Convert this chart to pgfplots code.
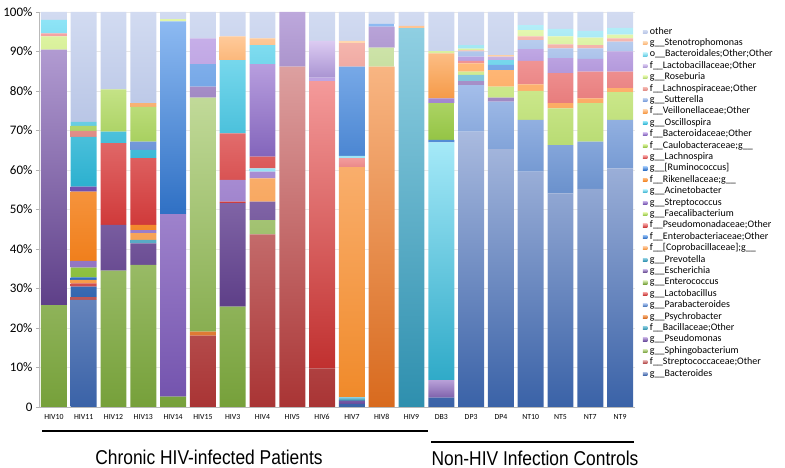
\documentclass[border=0pt]{standalone}
\usepackage{graphicx}
\usepackage{pgfplots}
\pgfplotsset{compat=1.18}
\usepackage{pgfplotstable}
\usepackage{fontspec}
\setmainfont{Carlito}
\newfontfamily\arialfont{Liberation Sans}

\definecolor{c1t}{HTML}{A9BADF}\definecolor{c1b}{HTML}{3A62A7}
\definecolor{c2t}{HTML}{DDA0A0}\definecolor{c2b}{HTML}{A93434}
\definecolor{c3t}{HTML}{CDE3A8}\definecolor{c3b}{HTML}{76A03A}
\definecolor{c4t}{HTML}{B8A0D8}\definecolor{c4b}{HTML}{6A4C9C}
\definecolor{c5t}{HTML}{7FC7DA}\definecolor{c5b}{HTML}{2E8FAA}
\definecolor{c6t}{HTML}{F8B582}\definecolor{c6b}{HTML}{D86A1E}
\definecolor{c7t}{HTML}{A4BEEA}\definecolor{c7b}{HTML}{3366B0}
\definecolor{c8t}{HTML}{F49A9A}\definecolor{c8b}{HTML}{C0302F}
\definecolor{c9t}{HTML}{CDE3A8}\definecolor{c9b}{HTML}{76A03A}
\definecolor{c10t}{HTML}{BDA8DC}\definecolor{c10b}{HTML}{5E3F88}
\definecolor{c11t}{HTML}{8FCFE2}\definecolor{c11b}{HTML}{2E8FAE}
\definecolor{c12t}{HTML}{FFC494}\definecolor{c12b}{HTML}{F08A2A}
\definecolor{c13t}{HTML}{8DBAF2}\definecolor{c13b}{HTML}{2E6EC2}
\definecolor{c14t}{HTML}{F29C9C}\definecolor{c14b}{HTML}{CC3B3B}
\definecolor{c15t}{HTML}{DDF3A0}\definecolor{c15b}{HTML}{8CBF3E}
\definecolor{c16t}{HTML}{C6AEE8}\definecolor{c16b}{HTML}{7454AE}
\definecolor{c17t}{HTML}{A5E9F8}\definecolor{c17b}{HTML}{2FAAC8}
\definecolor{c18t}{HTML}{FFB878}\definecolor{c18b}{HTML}{F07F1C}
\definecolor{c19t}{HTML}{8DBAF2}\definecolor{c19b}{HTML}{2F70C4}
\definecolor{c20t}{HTML}{F5A3A3}\definecolor{c20b}{HTML}{D03A3A}
\definecolor{c21t}{HTML}{E1F5A8}\definecolor{c21b}{HTML}{94C445}
\definecolor{c22t}{HTML}{C6AEE8}\definecolor{c22b}{HTML}{6F4FAE}
\definecolor{c23t}{HTML}{8EE4F6}\definecolor{c23b}{HTML}{2CB0CF}
\definecolor{c24t}{HTML}{FFCA9A}\definecolor{c24b}{HTML}{F59A48}
\definecolor{c25t}{HTML}{B8CCEE}\definecolor{c25b}{HTML}{6E95D8}
\definecolor{c26t}{HTML}{F6B8B0}\definecolor{c26b}{HTML}{E08B86}
\definecolor{c27t}{HTML}{E4F7B0}\definecolor{c27b}{HTML}{A8D060}
\definecolor{c28t}{HTML}{DCCBF2}\definecolor{c28b}{HTML}{A994D2}
\definecolor{c29t}{HTML}{B4EEF8}\definecolor{c29b}{HTML}{66CCE2}
\definecolor{c30t}{HTML}{FFD8B0}\definecolor{c30b}{HTML}{F8B070}
\definecolor{c31t}{HTML}{D2DBF1}\definecolor{c31b}{HTML}{B9C6E6}

\pgfplotstableread{
x s1 s2 s3 s4 s5 s6 s7 s8 s9 s10 s11 s12 s13 s14 s15 s16 s17 s18 s19 s20 s21 s22 s23 s24 s25 s26 s27 s28 s29 s30 s31
0 0 0 0 0 0 0 0 0 25.8 64.7 0 0 0 0 3.3 0 0 0 0 0.8 0 0 3.4 0 0 0 0 0 0 0 2.0
1 27.1 0.7 0 0 0 0 2.7 0.8 0 0 0 0.9 0.6 0 2.5 1.7 0 17.5 0 0 0 1.3 12.6 0 0 1.5 1.3 0 1.0 0 27.8
2 0 0 0 0 0 0 0 0 34.5 11.6 0 0 0 0 0 0 0 0 0 20.7 0 0 2.9 0 0 0 10.7 0 0 0 19.6
3 0 0 0 0 0 0 0 0 36.0 5.4 0.9 1.7 0 0 0 0.8 0 1.3 0 16.9 0 0 2.1 0 2.1 0 8.8 0 0 0.9 23.1
4 0 0 0 0 0 0 0 0 2.6 0 0 0 0 0 0 46.2 0 0 48.8 0 0.6 0 0 0 0 0 0 0 0 0 1.8
5 0 18.1 0 0 0 1.0 0 0 59.2 2.8 0 0 5.7 0 0 6.1 0 0 0 0 0 0.4 0 0 0 0 0 0 0 0 6.7
6 0 0 0 0 0 0 0 0 25.4 26.2 0 0 0 0.4 0 5.5 0 0 0 11.8 0 0 18.5 6.0 0 0 0 0 0 0 6.2
7 0 43.7 0 0 0 0 0 0 3.6 4.7 0 5.9 0 0 0 1.7 0.8 0 0 3.0 0 23.4 4.8 1.7 0 0 0 0 0 0 6.7
8 0 86.2 0 0 0 0 0 0 0 13.8 0 0 0 0 0 0 0 0 0 0 0 0 0 0 0 0 0 0 0 0 0
9 0 9.8 0 0 0 0 0 72.7 0 0 0 0 0 0 0 0.9 0 0 0 0 0 0 0 0 0 0 0 9.3 0 0 7.3
10 0.8 0 0 0.8 0.8 0 0 0 0 0 0 58.3 0 2.3 0 0 0.6 0 22.6 0 0 0 0 0 0 5.9 0 0 0 0.6 7.3
11 0 0 0 0 0 86.2 0 0 4.8 5.3 0 0 0.7 0 0 0 0 0 0 0 0 0 0 0 0 0 0 0 0 0 3.0
12 0 0 0 0 0 0 0 0 0 0 95.9 0.6 0 0 0 0 0 0 0 0 0 0 0 0 0 0 0 0 0 0 3.5
13 2.4 0 0 4.4 0 0 0 0 0 0 0 0 0 0 0 0 60.2 0 0.6 0 9.3 1.2 0 11.4 0 0 0.6 0 0 0 9.9
14 69.7 0 0 0 0 0 11.8 0 0 1.0 1.6 0 0 0 0.8 0 0 2.1 0 0.6 0 1.1 0 0 1.3 0.3 0.4 0 0.9 0 8.4
15 65.3 0 0 0 0 0 12.0 0 0 1.0 0 0 0 0 2.8 0 0 4.2 1.3 0 0 0 1.2 0 0 0 0 0.9 0 0.4 10.9
16 59.6 0 0 0 0 0 13.1 0 0 0 0 0 0 0 7.3 0 0 1.7 0 5.9 0 3.0 0 0 2.3 0.9 1.6 0 1.3 0 3.3
17 54.1 0 0 0 0 0 12.2 0 0 0 0 0 0 0 9.3 0 0 1.3 0 7.6 0 3.8 0 0 2.5 1.0 2.0 0 1.9 0 4.3
18 55.2 0 0 0 0 0 12.0 0 0 0 0 0 0 0 9.7 0 0 1.2 0 6.8 0 3.2 0 0 2.7 0.8 1.9 0 1.7 0 4.8
19 60.4 0 0 0 0 0 12.3 0 0 0 0 0 0 0 7.0 0 0 1.0 0 4.2 0 5.1 0 0 2.5 0.8 1.0 0 1.7 0 4.0
}\data

\begin{document}
\begin{tikzpicture}
\useasboundingbox (0pt,0pt) rectangle (785pt,468pt);
\begin{axis}[
  scale only axis, width=596pt, height=395pt,
  at={(39pt,61pt)}, anchor=south west,
  ybar stacked, bar width=0.87,
  xmin=-0.5, xmax=19.5, ymin=0, ymax=100,
  axis x line*=bottom, axis y line*=left,
  axis line style={draw=gray!55},
  xtick={0,...,19},
  xticklabels={HIV10,HIV11,HIV12,HIV13,HIV14,HIV15,HIV3,HIV4,HIV5,HIV6,HIV7,HIV8,HIV9,DB3,DP3,DP4,NT10,NT5,NT7,NT9},
  xticklabel style={font=\fontsize{7.8}{7.8}\selectfont, yshift=-1pt},
  xtick style={draw=none},
  ytick={0,10,...,100},
  yticklabels={0,10\%,20\%,30\%,40\%,50\%,60\%,70\%,80\%,90\%,100\%},
  yticklabel style={font=\fontsize{13}{13}\selectfont},
  ytick style={draw=gray!60},
  tick align=outside, major tick length=3pt,
  ymajorgrids, grid style={draw=gray!18},
  legend image code/.code={\path[#1] (0pt,-1.6pt) rectangle (4.5pt,1.6pt);},
  reverse legend,
  legend cell align=left,
  legend style={at={(1.008,0.967)}, anchor=north west, draw=none, fill=none,
    font=\fontsize{10}{10}\selectfont, row sep=2.4pt, column sep=2.5pt,
    nodes={inner sep=0pt, text height=6.8pt, text depth=2.2pt}},
]
\addplot[draw=none, top color=c1t, bottom color=c1b] table[x=x,y=s1]{\data};
\addlegendentry{g\_\_Bacteroides}
\addplot[draw=none, top color=c2t, bottom color=c2b] table[x=x,y=s2]{\data};
\addlegendentry{f\_\_Streptococcaceae;Other}
\addplot[draw=none, top color=c3t, bottom color=c3b] table[x=x,y=s3]{\data};
\addlegendentry{g\_\_Sphingobacterium}
\addplot[draw=none, top color=c4t, bottom color=c4b] table[x=x,y=s4]{\data};
\addlegendentry{g\_\_Pseudomonas}
\addplot[draw=none, top color=c5t, bottom color=c5b] table[x=x,y=s5]{\data};
\addlegendentry{f\_\_Bacillaceae;Other}
\addplot[draw=none, top color=c6t, bottom color=c6b] table[x=x,y=s6]{\data};
\addlegendentry{g\_\_Psychrobacter}
\addplot[draw=none, top color=c7t, bottom color=c7b] table[x=x,y=s7]{\data};
\addlegendentry{g\_\_Parabacteroides}
\addplot[draw=none, top color=c8t, bottom color=c8b] table[x=x,y=s8]{\data};
\addlegendentry{g\_\_Lactobacillus}
\addplot[draw=none, top color=c9t, bottom color=c9b] table[x=x,y=s9]{\data};
\addlegendentry{g\_\_Enterococcus}
\addplot[draw=none, top color=c10t, bottom color=c10b] table[x=x,y=s10]{\data};
\addlegendentry{g\_\_Escherichia}
\addplot[draw=none, top color=c11t, bottom color=c11b] table[x=x,y=s11]{\data};
\addlegendentry{g\_\_Prevotella}
\addplot[draw=none, top color=c12t, bottom color=c12b] table[x=x,y=s12]{\data};
\addlegendentry{f\_\_[Coprobacillaceae];g\_\_}
\addplot[draw=none, top color=c13t, bottom color=c13b] table[x=x,y=s13]{\data};
\addlegendentry{f\_\_Enterobacteriaceae;Other}
\addplot[draw=none, top color=c14t, bottom color=c14b] table[x=x,y=s14]{\data};
\addlegendentry{f\_\_Pseudomonadaceae;Other}
\addplot[draw=none, top color=c15t, bottom color=c15b] table[x=x,y=s15]{\data};
\addlegendentry{g\_\_Faecalibacterium}
\addplot[draw=none, top color=c16t, bottom color=c16b] table[x=x,y=s16]{\data};
\addlegendentry{g\_\_Streptococcus}
\addplot[draw=none, top color=c17t, bottom color=c17b] table[x=x,y=s17]{\data};
\addlegendentry{g\_\_Acinetobacter}
\addplot[draw=none, top color=c18t, bottom color=c18b] table[x=x,y=s18]{\data};
\addlegendentry{f\_\_Rikenellaceae;g\_\_}
\addplot[draw=none, top color=c19t, bottom color=c19b] table[x=x,y=s19]{\data};
\addlegendentry{g\_\_[Ruminococcus]}
\addplot[draw=none, top color=c20t, bottom color=c20b] table[x=x,y=s20]{\data};
\addlegendentry{g\_\_Lachnospira}
\addplot[draw=none, top color=c21t, bottom color=c21b] table[x=x,y=s21]{\data};
\addlegendentry{f\_\_Caulobacteraceae;g\_\_}
\addplot[draw=none, top color=c22t, bottom color=c22b] table[x=x,y=s22]{\data};
\addlegendentry{f\_\_Bacteroidaceae;Other}
\addplot[draw=none, top color=c23t, bottom color=c23b] table[x=x,y=s23]{\data};
\addlegendentry{g\_\_Oscillospira}
\addplot[draw=none, top color=c24t, bottom color=c24b] table[x=x,y=s24]{\data};
\addlegendentry{f\_\_Veillonellaceae;Other}
\addplot[draw=none, top color=c25t, bottom color=c25b] table[x=x,y=s25]{\data};
\addlegendentry{g\_\_Sutterella}
\addplot[draw=none, top color=c26t, bottom color=c26b] table[x=x,y=s26]{\data};
\addlegendentry{f\_\_Lachnospiraceae;Other}
\addplot[draw=none, top color=c27t, bottom color=c27b] table[x=x,y=s27]{\data};
\addlegendentry{g\_\_Roseburia}
\addplot[draw=none, top color=c28t, bottom color=c28b] table[x=x,y=s28]{\data};
\addlegendentry{f\_\_Lactobacillaceae;Other}
\addplot[draw=none, top color=c29t, bottom color=c29b] table[x=x,y=s29]{\data};
\addlegendentry{o\_\_Bacteroidales;Other;Other}
\addplot[draw=none, top color=c30t, bottom color=c30b] table[x=x,y=s30]{\data};
\addlegendentry{g\_\_Stenotrophomonas}
\addplot[draw=none, top color=c31t, bottom color=c31b] table[x=x,y=s31]{\data};
\addlegendentry{other}
\end{axis}
\draw[line width=2.2pt] (42pt,37pt) -- (428pt,37pt);
\draw[line width=2.2pt] (431pt,26pt) -- (634pt,26pt);
\node[font=\arialfont\fontsize{20}{20}\selectfont] at (209pt,11pt) {\scalebox{0.87}[1]{Chronic HIV-infected Patients}};
\node[font=\arialfont\fontsize{20}{20}\selectfont] at (535pt,10pt) {\scalebox{0.87}[1]{Non-HIV Infection Controls}};
\end{tikzpicture}
\end{document}
